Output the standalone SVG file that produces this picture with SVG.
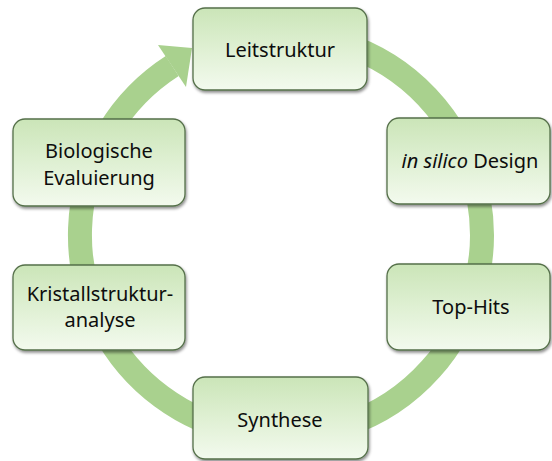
<svg xmlns="http://www.w3.org/2000/svg" width="552" height="461" viewBox="0 0 552 461">
<style>
.box{fill:url(#g);stroke:#55704a;stroke-width:1.3;filter:url(#sh)}
.t{font-family:"Noto Sans","Open Sans",sans-serif;font-size:20px;fill:#0d0d0d;text-anchor:middle}
.ring{fill:none;stroke:#a9d18e;stroke-width:24}
</style>
<defs>
<linearGradient id="g" x1="0" y1="0" x2="0" y2="1">
<stop offset="0" stop-color="#cbe5b8"/>
<stop offset="0.5" stop-color="#dff0d3"/>
<stop offset="1" stop-color="#f3faee"/>
</linearGradient>
<filter id="sh" x="-10%" y="-10%" width="120%" height="130%">
<feDropShadow dx="1" dy="2" stdDeviation="1.5" flood-color="#000" flood-opacity="0.45"/>
</filter>
</defs>
<rect width="552" height="461" fill="#fff"/>
<g id="connectors">
<path class="ring" d="M 263.5 34.8 A 201 201 0 1 1 172.2 66.0"/>
<polygon points="158,45 186,87 192,48" fill="#a9d18e"/>
</g>
<g id="leitstruktur">
<rect class="box" x="193" y="8" width="174" height="82" rx="12"/>
<text class="t" x="280" y="57">Leitstruktur</text>
</g>
<g id="insilico">
<rect class="box" x="387" y="118" width="163" height="86" rx="12"/>
<text class="t" x="470" y="168"><tspan font-style="italic">in silico</tspan> Design</text>
</g>
<g id="tophits">
<rect class="box" x="387" y="264" width="163" height="86" rx="12"/>
<text class="t" x="471" y="314">Top-Hits</text>
</g>
<g id="synthese">
<rect class="box" x="193" y="377" width="175" height="82" rx="12"/>
<text class="t" x="280" y="427">Synthese</text>
</g>
<g id="kristall">
<rect class="box" x="13" y="265" width="172" height="85" rx="12"/>
<text class="t" x="100" y="301">Kristallstruktur-</text>
<text class="t" x="100" y="327">analyse</text>
</g>
<g id="biologische">
<rect class="box" x="13" y="119" width="172" height="87" rx="12"/>
<text class="t" x="99" y="158">Biologische</text>
<text class="t" x="99" y="185">Evaluierung</text>
</g>
</svg>
